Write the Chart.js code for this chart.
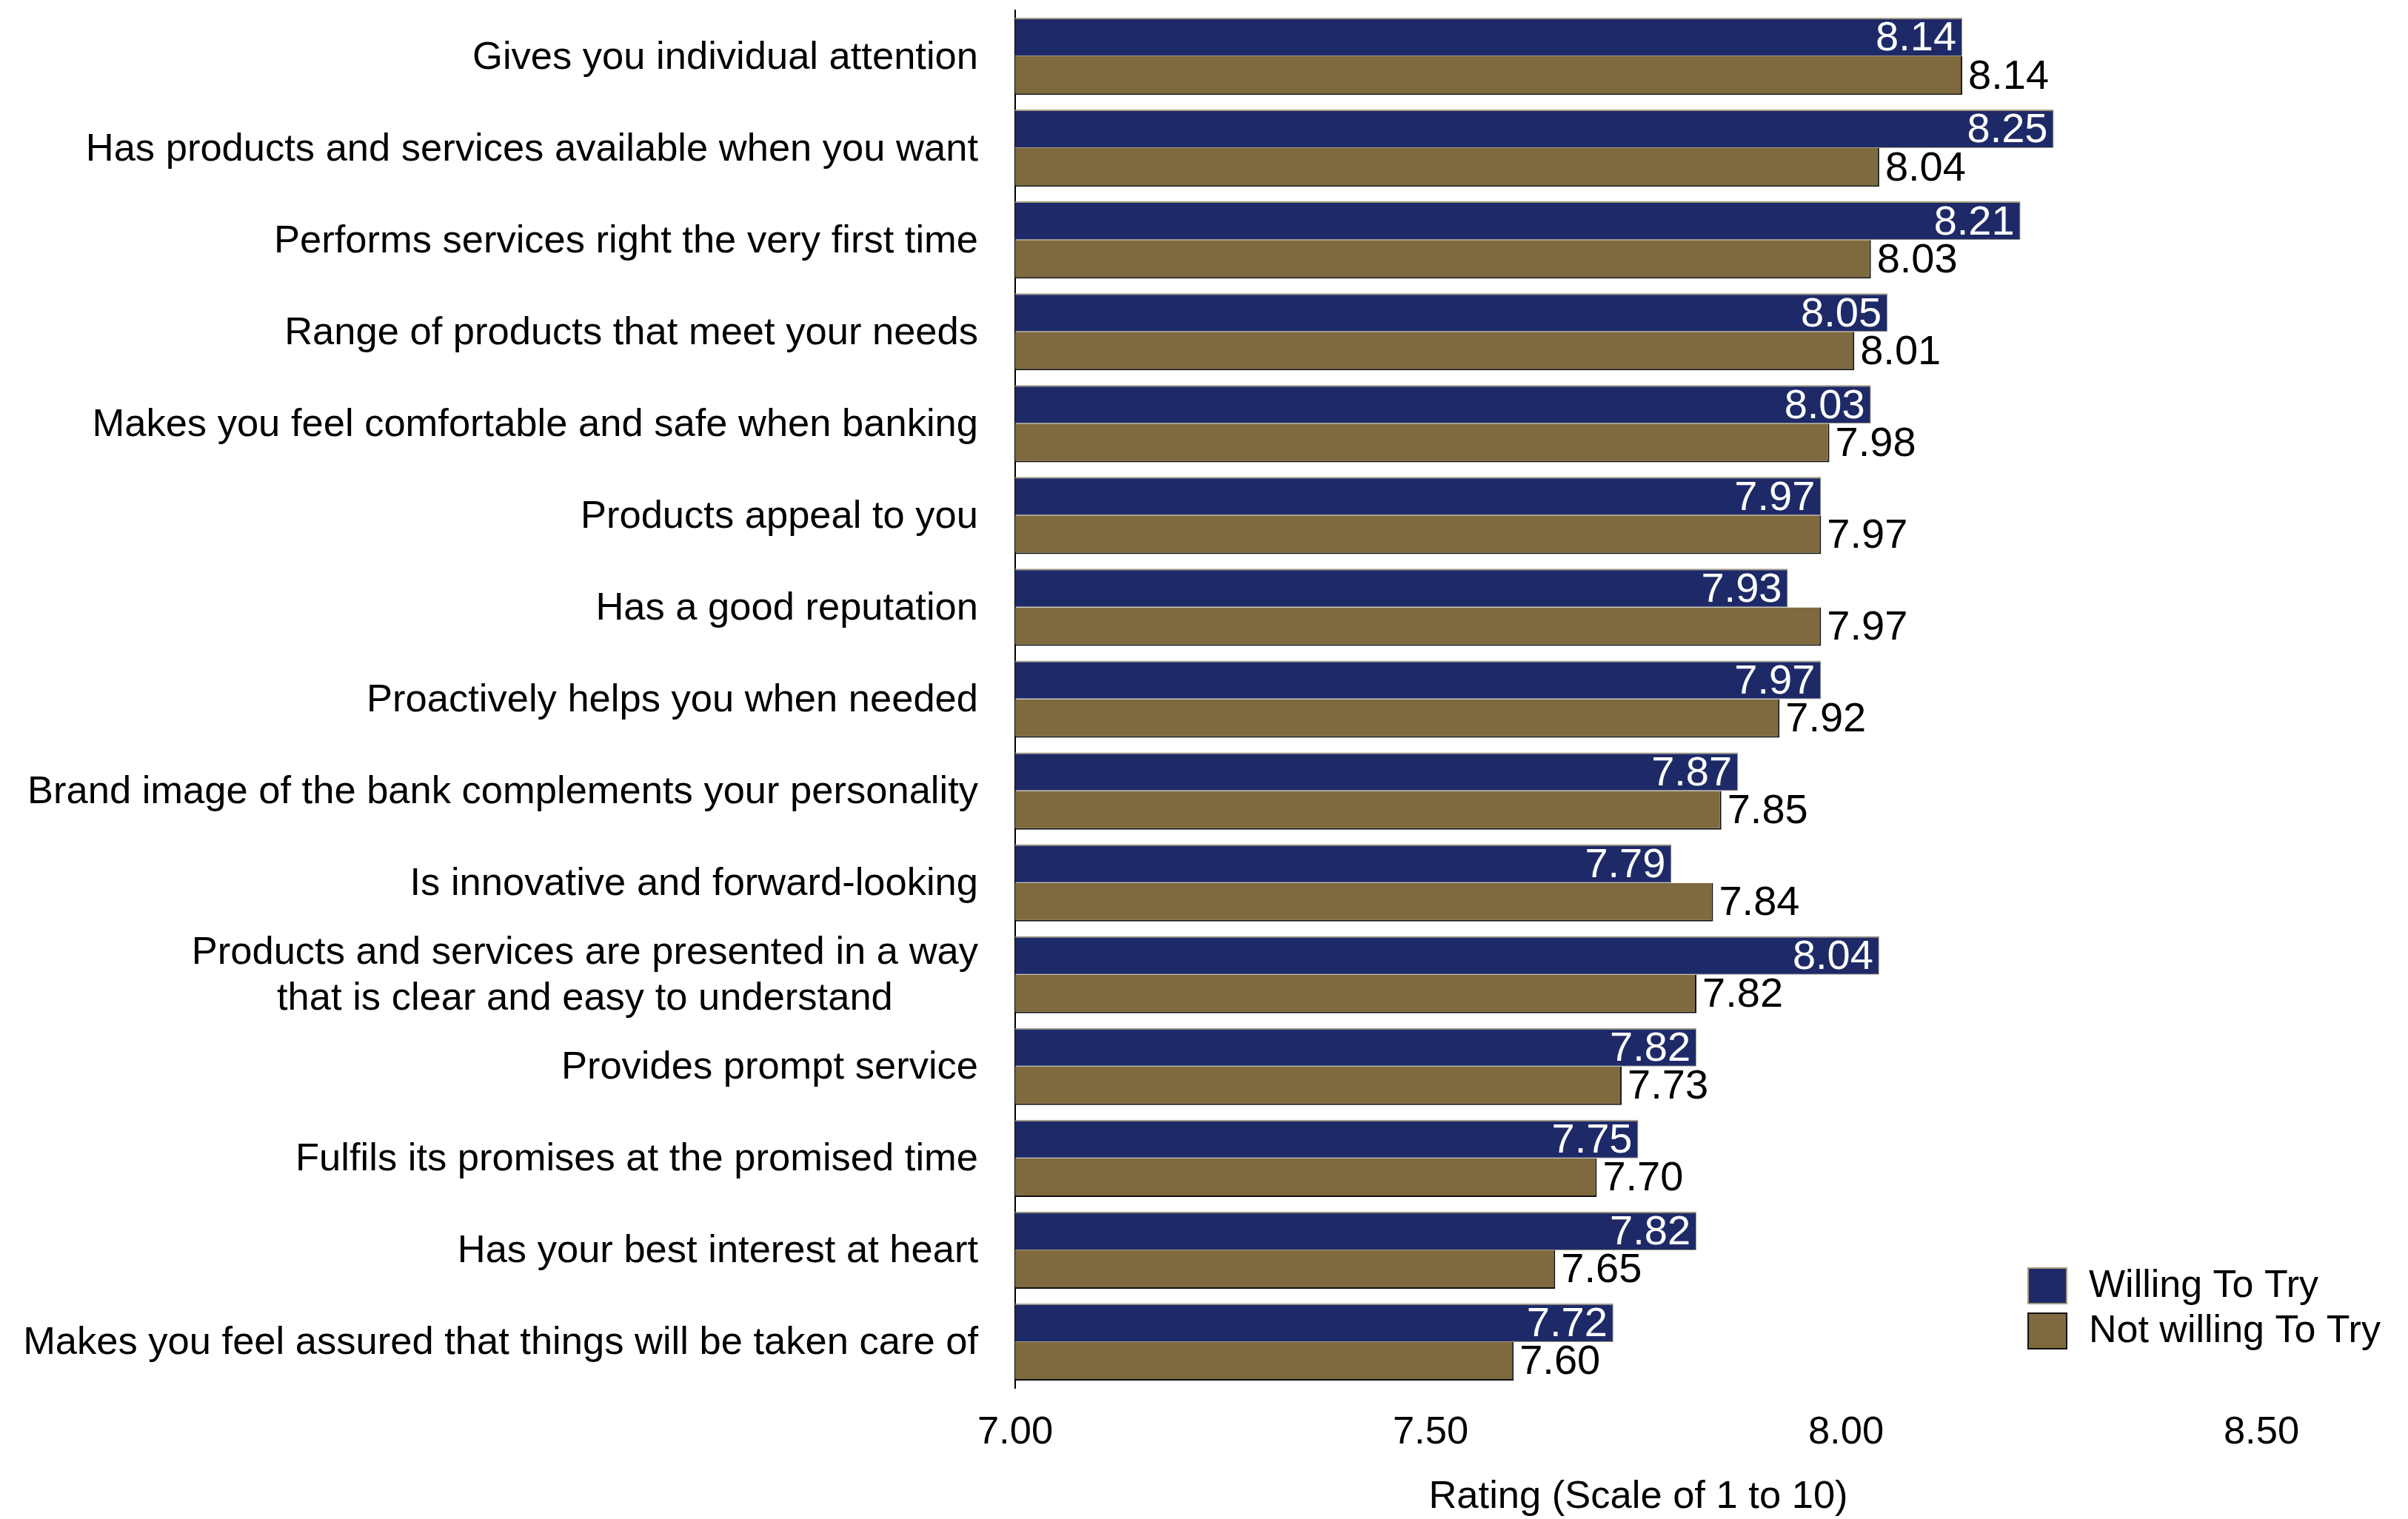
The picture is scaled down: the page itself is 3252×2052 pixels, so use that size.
<!DOCTYPE html>
<html><head><meta charset="utf-8">
<style>html,body{margin:0;padding:0;background:#fff}#wrap{width:3252px;height:2052px}</style>
<script src="https://cdn.jsdelivr.net/npm/chart.js@4/dist/chart.umd.min.js"></script>
</head><body><div id="wrap"><canvas id="c" width="3252" height="2052"></canvas></div>
<script>
const categories = [
  'Gives you individual attention',
  'Has products and services available when you want',
  'Performs services right the very first time',
  'Range of products that meet your needs',
  'Makes you feel comfortable and safe when banking',
  'Products appeal to you',
  'Has a good reputation',
  'Proactively helps you when needed',
  'Brand image of the bank complements your personality',
  'Is innovative and forward-looking',
  ['Products and services are presented in a way', 'that is clear and easy to understand'],
  'Provides prompt service',
  'Fulfils its promises at the promised time',
  'Has your best interest at heart',
  'Makes you feel assured that things will be taken care of'
];
const willingValues    = [8.14, 8.25, 8.21, 8.05, 8.03, 7.97, 7.93, 7.97, 7.87, 7.79, 8.04, 7.82, 7.75, 7.82, 7.72];
const notWillingValues = [8.14, 8.04, 8.03, 8.01, 7.98, 7.97, 7.97, 7.92, 7.85, 7.84, 7.82, 7.73, 7.70, 7.65, 7.60];
const seriesNames = ['Willing To Try', 'Not willing To Try'];
const xTickValues = [7.00, 7.50, 8.00, 8.50];
const xAxisTitle = 'Rating (Scale of 1 to 10)';

const FONT = '"Liberation Sans", Arial, sans-serif';
const FS = 52.5;
const VFS = 56;
const NAVY = '#1e2a68';
const TAN = '#7e6a3e';
const NAVY_BORDER = '#a49c82';
const TAN_BORDER = '#111111';

Chart.defaults.font.family = FONT;
Chart.defaults.font.size = FS;
Chart.defaults.color = '#000';

const yLabelPlugin = {
  id: 'yLabels',
  afterDraw(chart) {
    const ctx = chart.ctx;
    const ys = chart.scales.y;
    const rightX = chart.chartArea.left - 50;
    const lh = 62;
    ctx.save();
    ctx.font = FS + 'px ' + FONT;
    ctx.fillStyle = '#000';
    ctx.textBaseline = 'middle';
    categories.forEach((lab, i) => {
      const cy = ys.getPixelForValue(i) + 2;
      const lines = Array.isArray(lab) ? lab : [lab];
      const widest = Math.max(...lines.map(l => ctx.measureText(l).width));
      const cx = rightX - widest / 2;
      ctx.textAlign = 'center';
      lines.forEach((l, k) => {
        const y = cy + (k - (lines.length - 1) / 2) * lh;
        ctx.fillText(l, cx, y);
      });
    });
    ctx.restore();
  }
};

const valueLabelPlugin = {
  id: 'valueLabels',
  afterDatasetsDraw(chart) {
    const ctx = chart.ctx;
    ctx.save();
    ctx.font = VFS + 'px ' + FONT;
    ctx.textBaseline = 'middle';
    chart.data.datasets.forEach((ds, di) => {
      const meta = chart.getDatasetMeta(di);
      meta.data.forEach((el, i) => {
        const txt = Number(ds.data[i]).toFixed(2);
        if (di === 0) {
          ctx.fillStyle = '#fff';
          ctx.textAlign = 'right';
          ctx.fillText(txt, el.x - 8, el.y + 3);
        } else {
          ctx.fillStyle = '#000';
          ctx.textAlign = 'left';
          ctx.fillText(txt, el.x + 8, el.y + 2);
        }
      });
    });
    ctx.restore();
  }
};

const legendPlugin = {
  id: 'customLegend',
  afterDraw(chart) {
    const ctx = chart.ctx;
    const x0 = chart.chartArea.right - 316;
    const y0 = chart.chartArea.bottom - 163;
    const box = 52, gap = 61;
    ctx.save();
    ctx.font = '52px ' + FONT;
    ctx.textBaseline = 'middle';
    ctx.textAlign = 'left';
    chart.data.datasets.forEach((ds, di) => {
      const y = y0 + di * gap;
      ctx.fillStyle = ds.backgroundColor;
      ctx.fillRect(x0, y, box + 2, box - 2);
      ctx.strokeStyle = di === 0 ? NAVY_BORDER : TAN_BORDER;
      ctx.lineWidth = 2;
      ctx.strokeRect(x0 + 1, y + 1, box, box - 4);
      ctx.fillStyle = '#000';
      ctx.fillText(ds.label, x0 + 83, y + box / 2);
    });
    ctx.restore();
  }
};

new Chart(document.getElementById('c'), {
  type: 'bar',
  data: {
    labels: categories,
    datasets: [
      {
        label: seriesNames[0],
        data: willingValues,
        backgroundColor: NAVY,
        borderColor: NAVY_BORDER,
        borderWidth: {top: 2, bottom: 1, right: 1, left: 0},
        borderSkipped: 'start'
      },
      {
        label: seriesNames[1],
        data: notWillingValues,
        backgroundColor: TAN,
        borderColor: TAN_BORDER,
        borderWidth: {top: 0, bottom: 2, right: 2, left: 0},
        borderSkipped: 'start'
      }
    ]
  },
  options: {
    indexAxis: 'y',
    responsive: false,
    animation: false,
    devicePixelRatio: 1,
    categoryPercentage: 0.84,
    barPercentage: 1.0,
    layout: { padding: { top: 14, right: 198, bottom: 0, left: 0 } },
    plugins: { legend: { display: false }, tooltip: { enabled: false } },
    scales: {
      x: {
        type: 'linear',
        min: 7.0,
        max: 8.5,
        afterBuildTicks(s) { s.ticks = xTickValues.map(v => ({ value: v })); },
        afterFit(s) { s.height = 177; },
        grid: { display: false, drawTicks: false },
        border: { display: false },
        ticks: {
          padding: 34,
          font: { size: FS, lineHeight: 1 },
          color: '#000',
          callback: v => Number(v).toFixed(2)
        },
        title: {
          display: true,
          text: xAxisTitle,
          color: '#000',
          font: { size: FS, lineHeight: 1 },
          padding: { top: 0, bottom: 3 }
        }
      },
      y: {
        type: 'category',
        afterFit(s) { s.width = 1371; },
        grid: { display: false, drawTicks: false },
        border: { display: true, color: '#000', width: 2 },
        ticks: { display: false }
      }
    }
  },
  plugins: [valueLabelPlugin, yLabelPlugin, legendPlugin]
});
</script>
</body></html>
